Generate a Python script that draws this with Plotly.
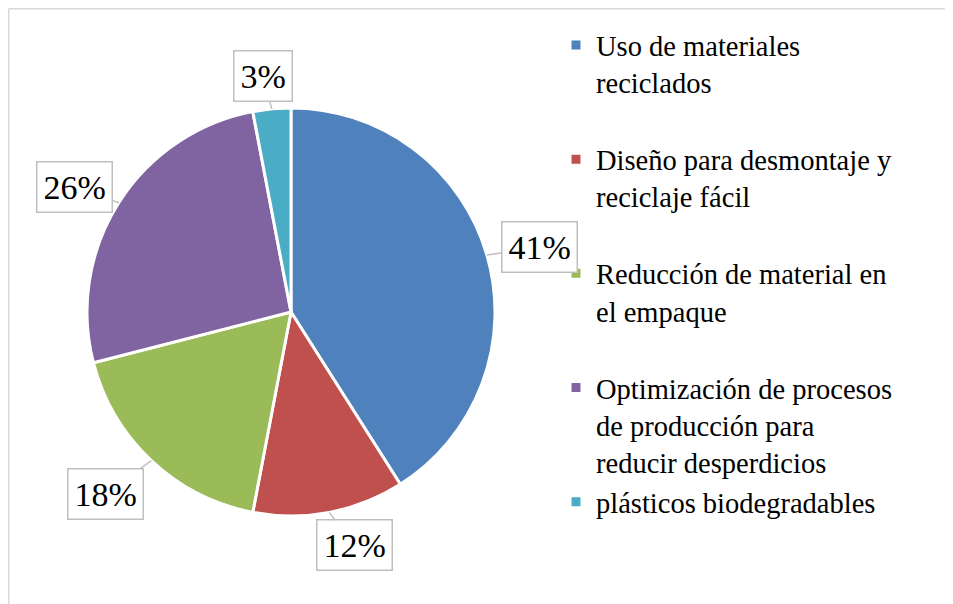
import math
import plotly.graph_objects as go

categories = [
    "Uso de materiales<br>reciclados<br> ",
    "Diseño para desmontaje y<br>reciclaje fácil<br> ",
    "Reducción de material en<br>el empaque<br> ",
    "Optimización de procesos<br>de producción para<br>reducir desperdicios",
    "plásticos biodegradables",
]
values = [41, 12, 18, 26, 3]
colors = ["#4F81BD", "#C0504D", "#9BBB59", "#8064A2", "#4BACC6"]
label_offsets = [(53, -8), (25, 33), (-46, 33), (-44, -16), (-9, -33)]

W, H = 953, 604
# page body has an 8px margin; positions below are in figure pixels
cx, cy, r = 283, 304, 204

fig = go.Figure()
fig.add_trace(go.Pie(
    labels=categories,
    values=values,
    sort=False,
    direction="clockwise",
    rotation=0,
    marker=dict(colors=colors, line=dict(color="white", width=3)),
    textinfo="none",
    hoverinfo="label+percent",
    domain=dict(x=[(cx - r) / W, (cx + r) / W], y=[1 - (cy + r) / H, 1 - (cy - r) / H]),
))

total = sum(values)
cum = 0
annotations = []
for v, (ox, oy) in zip(values, label_offsets):
    mid = (cum + v / 2) / total * 2 * math.pi
    cum += v
    tx = cx + r * math.sin(mid)
    ty = cy - r * math.cos(mid)
    annotations.append(dict(
        x=tx / W, y=1 - ty / H, xref="paper", yref="paper",
        text=f"{round(v / total * 100)}%",
        showarrow=True, arrowhead=0, arrowwidth=1.5, arrowcolor="#bfbfbf",
        ax=ox, ay=oy, standoff=0,
        font=dict(family="Liberation Serif", size=34, color="black"),
        bgcolor="white", bordercolor="#bfbfbf", borderwidth=1.5, borderpad=6,
    ))

fig.update_layout(
    width=W, height=H,
    margin=dict(l=0, r=0, t=0, b=0),
    paper_bgcolor="white",
    plot_bgcolor="white",
    showlegend=True,
    legend=dict(
        x=548 / W, y=1 - 12 / H, xanchor="left", yanchor="top",
        font=dict(family="Liberation Serif", size=28.5, color="black"),
        valign="top", itemwidth=30, traceorder="normal",
        bgcolor="rgba(0,0,0,0)",
    ),
    annotations=annotations,
    shapes=[
        dict(type="line", xref="paper", yref="paper",
             x0=0.75 / W, x1=0.75 / W, y0=0, y1=1 - 0.75 / H,
             line=dict(color="#d9d9d9", width=1.5), layer="below"),
        dict(type="line", xref="paper", yref="paper",
             x0=0.75 / W, x1=1, y0=1 - 0.75 / H, y1=1 - 0.75 / H,
             line=dict(color="#d9d9d9", width=1.5), layer="below"),
    ],
)

fig.write_html("out.html")
